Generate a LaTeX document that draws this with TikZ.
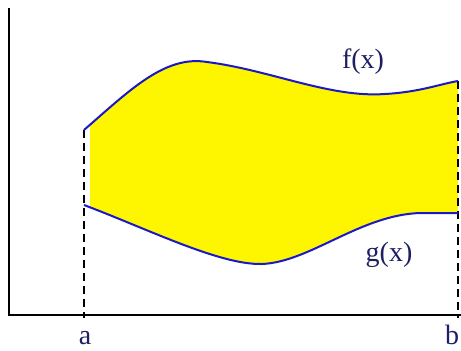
\documentclass[tikz,border=0pt]{standalone}
\usepackage{fontspec}
\setmainfont{Liberation Serif}
\definecolor{fillyellow}{RGB}{254,245,0}
\definecolor{curveblue}{RGB}{25,25,200}
\definecolor{labelnavy}{RGB}{30,30,100}
\begin{document}
\begin{tikzpicture}[x=1pt,y=-1pt,
  axisline/.style={line width=2.2pt,black},
  curveline/.style={line width=2pt,draw=curveblue},
  dashline/.style={line width=1.8pt,dash pattern=on 8pt off 5pt,black},
  lbl/.style={font=\fontsize{28}{30}\selectfont,text=labelnavy,inner sep=0pt},
  axlbl/.style={font=\fontsize{28}{30}\selectfont,text=labelnavy,inner sep=0pt,anchor=base}]
\useasboundingbox (0,0) rectangle (461,351);
% fill
\begin{scope}
\clip (90,0) rectangle (458,351);
\fill[fillyellow] (84,130) .. controls (130,90) and (165,55) .. (207,62)
  .. controls (270,70) and (330,98) .. (385,94) .. controls (420,92) and (440,84) .. (458,81)
  -- (458,213) -- (420,213) .. controls (360,215) and (310,262) .. (262,264)
  .. controls (220,265) and (150,230) .. (84,205) -- cycle;
\end{scope}
% axes
\coordinate (O) at (9,315);
\coordinate (Ytop) at (9,8);
\coordinate (Xend) at (461,315);
\draw[axisline] (Ytop) -- (O) -- (Xend);
% dashed
\coordinate (fa) at (84,130);
\coordinate (ga) at (84,205);
\coordinate (fb) at (458,81);
\coordinate (gb) at (458,213);
\coordinate (a0) at (84,318);
\coordinate (b0) at (458,318);
\draw[dashline] (fa) -- (a0);
\draw[dashline] (fb) -- (b0);
% curves
\draw[curveline] (fa) .. controls (130,90) and (165,55) .. (207,62)
  .. controls (270,70) and (330,98) .. (385,94) .. controls (420,92) and (440,84) .. (fb);
\draw[curveline] (ga) .. controls (150,230) and (220,265) .. (262,264)
  .. controls (310,262) and (360,215) .. (420,213) -- (gb);
% labels
\node[lbl] (fl) at (363,62) {f(x)};
\node[lbl] (gl) at (389,255) {g(x)};
\node[axlbl] (al) at (85,344) {a};
\node[axlbl] (bl) at (452,344) {b};
\end{tikzpicture}
\end{document}
